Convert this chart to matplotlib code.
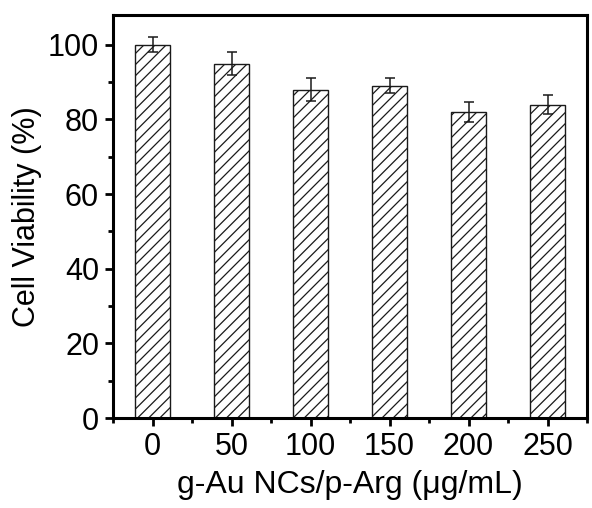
import numpy as np
import matplotlib.pyplot as plt
from matplotlib.ticker import MultipleLocator

# Данные
concentrations = ['0', '50', '100', '150', '200', '250']
viability = [100, 95, 88, 89, 82, 84]
viability_err = [2, 3, 3, 2, 2.8, 2.5]

plt.rcParams['font.family'] = ['Liberation Sans', 'DejaVu Sans']
plt.rcParams['hatch.linewidth'] = 0.9
plt.rcParams['hatch.color'] = '#1a1a1a'

fig = plt.figure(figsize=(5.92, 5.08), dpi=100)
ax = fig.add_axes([113 / 592, 90 / 508, 474 / 592, 403 / 508])

x = np.arange(len(concentrations))
ax.bar(x, viability, width=0.45, color='white', edgecolor='#1a1a1a', linewidth=1.0,
       hatch='///', yerr=viability_err, capsize=3.5,
       error_kw={'elinewidth': 1.1, 'capthick': 1.1, 'ecolor': '#1a1a1a'})

ax.set_xlim(-0.42, 5.38)
ax.set_ylim(0, 108)
ax.set_xticks(x)
ax.set_xticklabels(concentrations)
ax.set_xticks([i + 0.5 for i in range(-1, 6)], minor=True)
ax.yaxis.set_major_locator(MultipleLocator(20))
ax.yaxis.set_minor_locator(MultipleLocator(10))

for s in ax.spines.values():
    s.set_linewidth(2.2)
ax.tick_params(which='major', direction='out', length=6, width=2, labelsize=22, pad=4)
ax.tick_params(which='minor', direction='out', length=3.5, width=2)

ax.set_xlabel('g-Au NCs/p-Arg (μg/mL)', fontsize=23, labelpad=6)
ax.set_ylabel('Cell Viability (%)', fontsize=22, labelpad=4)

fig.savefig('out.png', dpi=100)
